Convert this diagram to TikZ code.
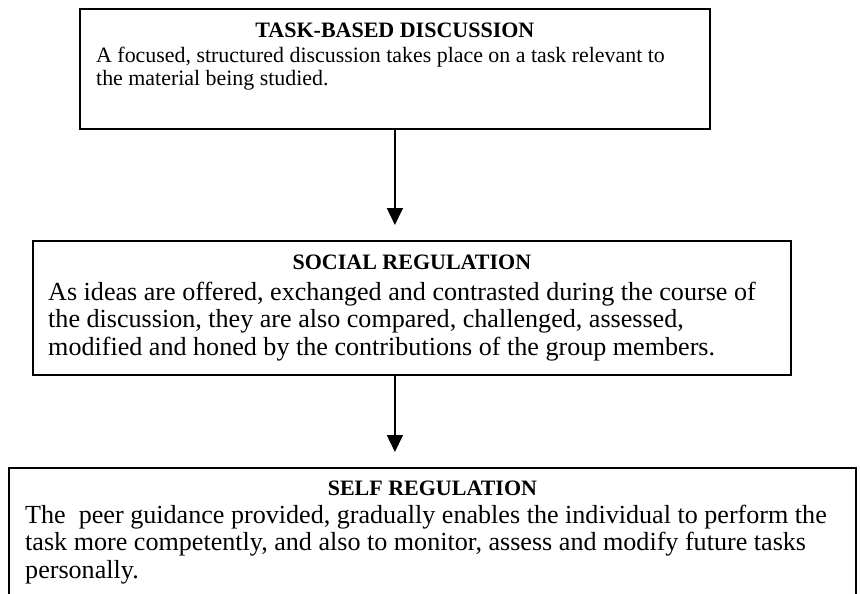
\documentclass[tikz,border=0pt]{standalone}
\usepackage{fontspec}
\setmainfont{Liberation Serif}
\usetikzlibrary{arrows.meta}

\begin{document}
\begin{tikzpicture}[x=1pt,y=-1pt,
		box/.style={draw,line width=1.8pt,anchor=north west,inner sep=0pt},
		title/.style={anchor=base,inner sep=0pt,font=\fontsize{22}{24}\selectfont\bfseries},
		smalltext/.style={anchor=base west,align=left,inner sep=0pt,font=\fontsize{21.9}{23.5}\selectfont},
		bigtext/.style={anchor=base west,align=left,inner sep=0pt,font=\fontsize{26.1}{27.5}\selectfont},
		flow/.style={line width=1.6pt,shorten >=15pt,-{Triangle[length=17pt,width=16pt]}}]
		%%%%% START %%%%%
		
		\useasboundingbox (0,0) rectangle (860,594);
		
		% boxes
		\node[box,minimum width=630pt,minimum height=120pt] (task) at (79,8) {};
		\node[box,minimum width=758pt,minimum height=134pt] (social) at (32,240) {};
		\node[box,minimum width=847pt,minimum height=140pt] (self) at (8,467) {};
		
		% titles and texts (base = last line)
		\node[title] (tasktitle) at (task.center |- 0,38) {TASK-BASED DISCUSSION};
		\node[smalltext] (tasktext) at (96,86) {A focused, structured discussion takes place on a task relevant to\\the material being studied.};
		
		\node[title] (socialtitle) at (social.center |- 0,269) {SOCIAL REGULATION};
		\node[bigtext] (socialtext) at (48,355) {As ideas are offered, exchanged and contrasted during the course of\\the discussion, they are also compared, challenged, assessed,\\modified and honed by the contributions of the group members.};
		
		\node[title] (selftitle) at (self.center |- 0,495) {SELF REGULATION};
		\node[bigtext] (selftext) at (25,578) {The\ \ peer guidance provided, gradually enables the individual to perform the\\task more competently, and also to monitor, assess and modify future tasks\\personally.};
		
		% arrows
		\draw[flow] (task.south) -- (task.south |- social.north);
		\draw[flow] (social.south -| task.south) -- (task.south |- self.north);
		
		%%%%% END %%%%%
	\end{tikzpicture}
\end{document}
